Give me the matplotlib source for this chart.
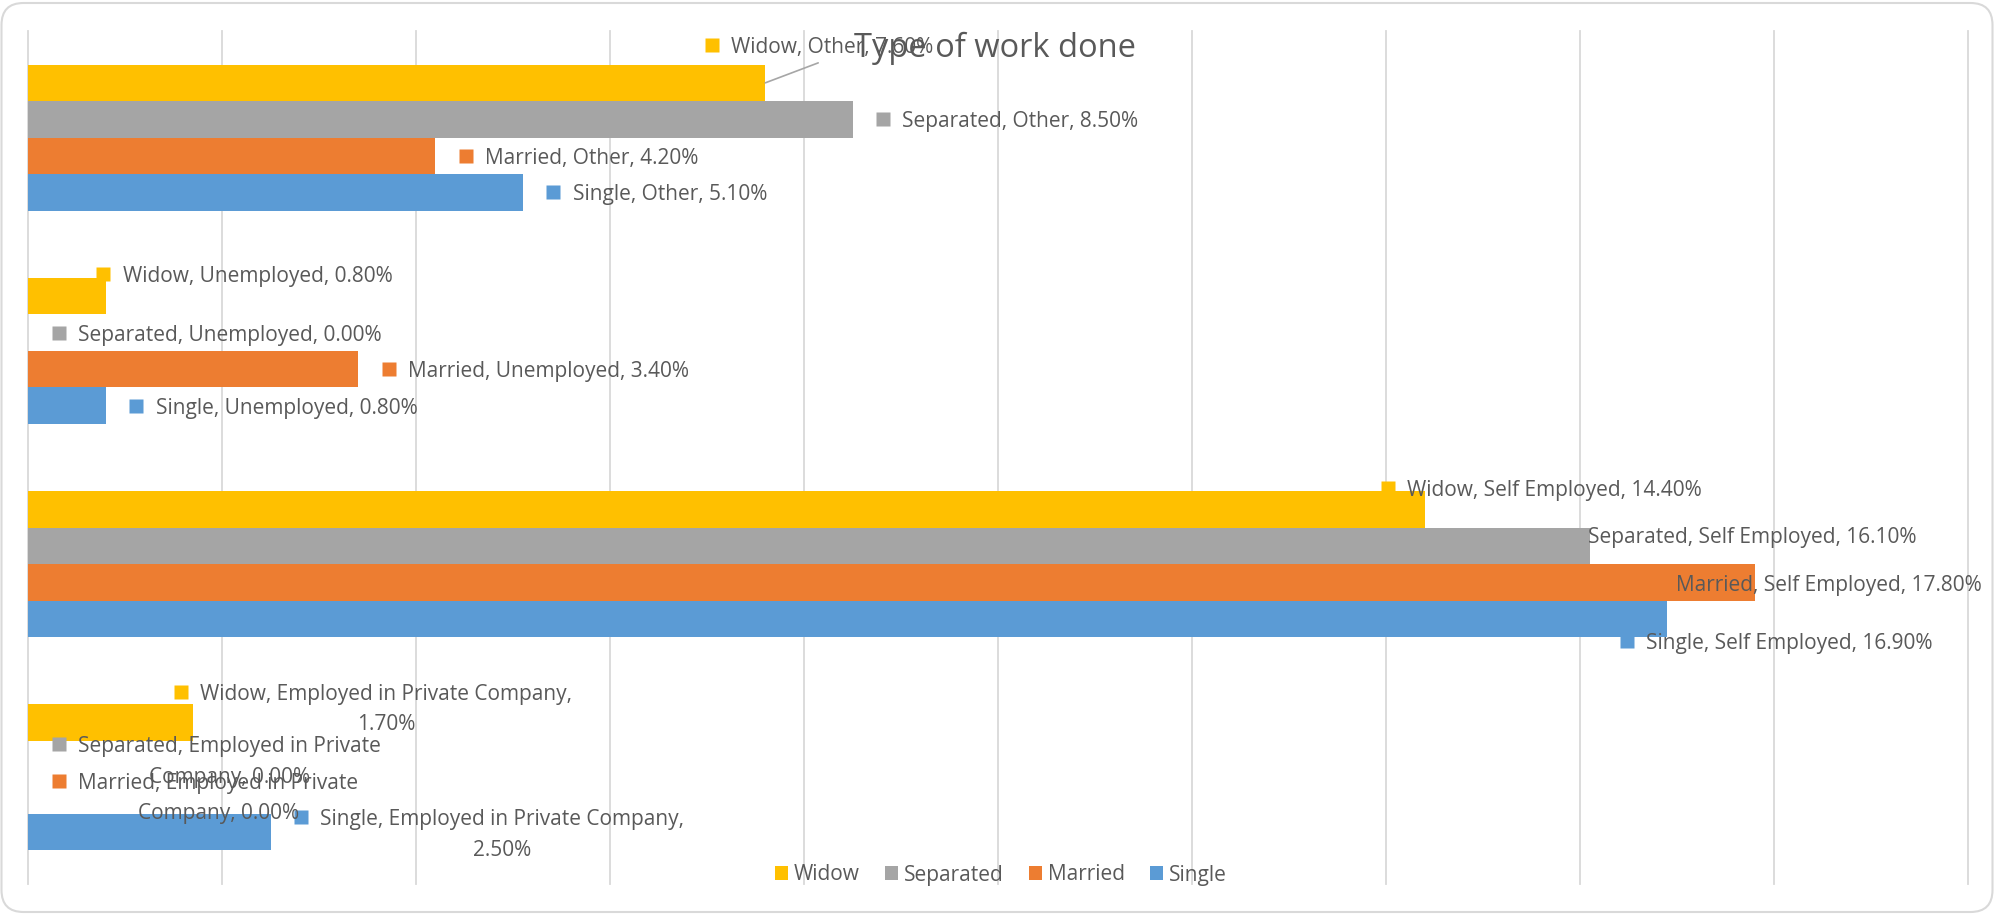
import matplotlib
matplotlib.use("Agg")
import matplotlib.pyplot as plt
import matplotlib.transforms as mtrans
from matplotlib.patches import Patch, FancyBboxPatch
import numpy as np

# ---------------- data ----------------
categories = ["Employed in Private Company", "Self Employed", "Unemployed", "Other"]
series_names = ["Single", "Married", "Separated", "Widow"]
single = [2.5, 16.9, 0.8, 5.1]
married = [0.0, 17.8, 3.4, 4.2]
separated = [0.0, 16.1, 0.0, 8.5]
widow = [1.7, 14.4, 0.8, 7.6]
title = "Type of work done"
x_ticks = list(range(0, 21, 2))

series_values = {"Single": single, "Married": married,
                 "Separated": separated, "Widow": widow}
colors = {"Single": "#5B9BD5", "Married": "#ED7D31",
          "Separated": "#A5A5A5", "Widow": "#FFC000"}
legend_order = ["Widow", "Separated", "Married", "Single"]

# manual label drags (pixels, y down) relative to default outside-end position
label_shift = {
    ("Widow", "Other"): (-84, -38),
    ("Widow", "Unemployed"): (-33, -22),
    ("Widow", "Self Employed"): (-68, -21),
    ("Separated", "Self Employed"): (-52, -11),
    ("Married", "Self Employed"): (-129, 1),
    ("Single", "Self Employed"): (-71, 22),
    ("Widow", "Employed in Private Company"): (-43, -16),
}
leader = {("Widow", "Other"): (53, -20)}

TEXT = "#595959"
plt.rcParams["font.family"] = ["Open Sans", "DejaVu Sans"]

W, H, DPI = 1995, 914, 100
fig = plt.figure(figsize=(W / DPI, H / DPI), dpi=DPI)
fig.patch.set_facecolor("white")

# background rounded frame
bg = fig.add_axes([0, 0, 1, 1], zorder=-5)
bg.set_xlim(0, W)
bg.set_ylim(0, H)
bg.axis("off")
bg.add_patch(FancyBboxPatch((1.5, 2), W - 4, H - 5,
                            boxstyle="round,pad=0,rounding_size=22",
                            facecolor="white", edgecolor="#D9D9D9", lw=1.5))

# main axes
ax_l, ax_b, ax_w, ax_h = 28, 30, 1940, 853
ax = fig.add_axes([ax_l / W, ax_b / H, ax_w / W, ax_h / H])
ax.patch.set_alpha(0)
ax.set_xlim(0, 20)
ax.set_ylim(-0.5, len(categories) - 0.5)
ax.set_xticks(x_ticks)
ax.set_yticks([])
ax.tick_params(axis="x", length=0, labelbottom=False)
ax.grid(axis="x", color="#D9D9D9", lw=1.3)
ax.set_axisbelow(True)
for s in ax.spines.values():
    s.set_visible(False)
for gl in ax.get_xgridlines():
    gl.set_clip_on(False)

px_per_unit = ax_h / len(categories)
bh = 36.5 / px_per_unit
ypos = np.arange(len(categories))


def wrap(text, maxlen=36):
    words = text.split(" ")
    lines, cur = [], ""
    for w in words:
        cand = w if not cur else cur + " " + w
        if len(cand) <= maxlen:
            cur = cand
        else:
            lines.append(cur)
            cur = w
    lines.append(cur)
    return lines


for i, name in enumerate(series_names):
    vals = series_values[name]
    yy = ypos + (i - 1.5) * bh
    ax.barh(yy, vals, height=bh, color=colors[name], zorder=2)
    for j, (v, yc) in enumerate(zip(vals, yy)):
        cat = categories[j]
        lines = wrap(f"{name}, {cat}, {v:.2f}%")
        sx, sy = label_shift.get((name, cat), (0, 0))
        mleft = 24 + sx
        mcy = sy + (-15 if len(lines) > 1 else 0)  # down positive
        # marker
        tr = ax.transData + mtrans.ScaledTranslation(
            (mleft + 6.75) / DPI, -mcy / DPI, fig.dpi_scale_trans)
        ax.plot([v], [yc], marker="s", ms=13.5 * 72 / DPI, color=colors[name],
                mec="none", transform=tr, zorder=5, clip_on=False)
        t1 = ax.annotate(lines[0], xy=(v, yc), xytext=(mleft + 26, -(mcy + 8)),
                         textcoords="offset pixels", ha="left", va="baseline",
                         fontsize=15, color=TEXT, zorder=6, annotation_clip=False)
        if len(lines) > 1:
            ax.annotate(" ".join(lines[1:]), xy=(0.5, 0), xycoords=t1,
                        xytext=(0, -25.5), textcoords="offset pixels",
                        ha="center", va="baseline", fontsize=15, color=TEXT,
                        zorder=6, annotation_clip=False)
        if (name, cat) in leader:
            lx, ly = leader[(name, cat)]
            ax.annotate("", xy=(v, yc), xytext=(lx, -ly), textcoords="offset pixels",
                        arrowprops=dict(arrowstyle="-", color="#A6A6A6", lw=1.2,
                                        shrinkA=0, shrinkB=0), zorder=4)

fig.text(995 / W, 1 - 57 / H, title, ha="center", va="baseline",
         fontsize=23.5, color=TEXT)

handles = [Patch(facecolor=colors[n], edgecolor="none") for n in legend_order]
fig.legend(handles, legend_order, loc="center", bbox_to_anchor=(1001 / W, 1 - 875 / H),
           ncol=4, frameon=False, fontsize=15, handlelength=0.62, handleheight=0.62,
           handletextpad=0.3, columnspacing=1.2, labelcolor=TEXT, borderpad=0)

fig.savefig("out.png", dpi=DPI, facecolor="white")
